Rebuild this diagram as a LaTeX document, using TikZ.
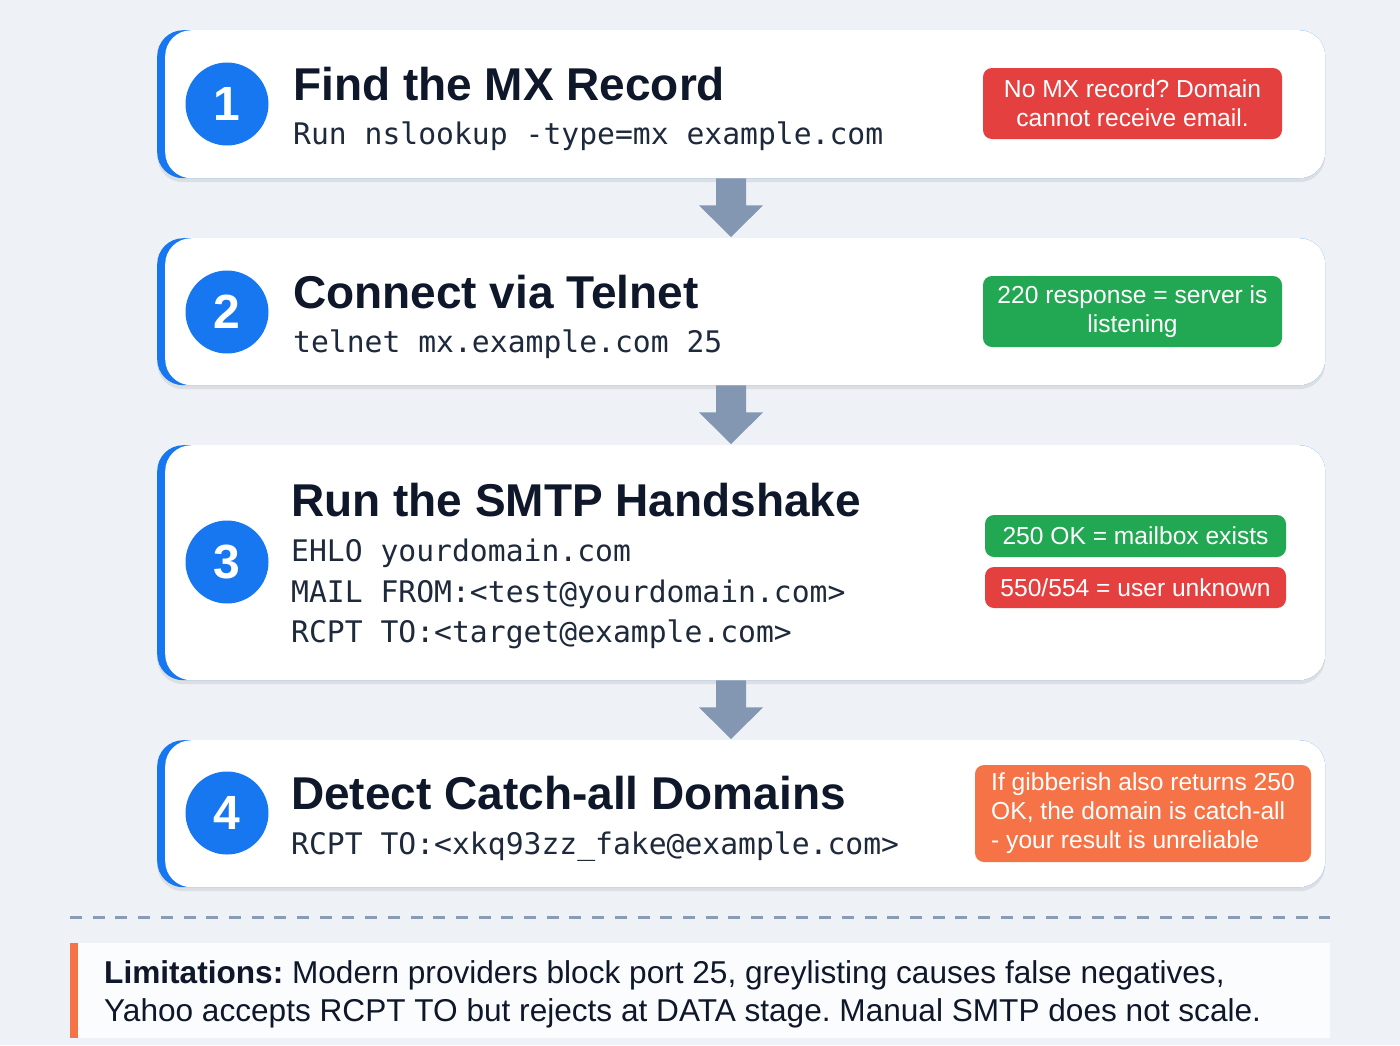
\documentclass[tikz,border=0pt]{standalone}
\usepackage{fontspec}
\setmainfont{Liberation Sans}
\setmonofont{DejaVu Sans Mono}
\usetikzlibrary{calc,shadows}
\frenchspacing
\definecolor{bgc}{RGB}{238,242,247}
\definecolor{stepblue}{RGB}{22,119,240}
\definecolor{ink}{RGB}{15,23,42}
\definecolor{ink2}{RGB}{30,41,59}
\definecolor{arrowc}{RGB}{132,151,178}
\definecolor{dashc}{RGB}{138,155,181}
\definecolor{badred}{RGB}{228,64,64}
\definecolor{goodgreen}{RGB}{34,167,82}
\definecolor{warnorange}{RGB}{245,115,70}
\definecolor{notebg}{RGB}{251,252,253}
\begin{document}
\begin{tikzpicture}[x=1pt,y=-1pt,
  cardbase/.style={fill=stepblue, rounded corners=26, inner sep=0, anchor=north west, minimum width=1168,
    drop shadow={shadow xshift=0pt, shadow yshift=-4pt, opacity=0.08, fill=black}},
  cardface/.style={fill=white, rounded corners=26, inner sep=0, anchor=north west, minimum width=1160},
  num/.style={circle, fill=stepblue, minimum size=83, inner sep=0, text=white, font=\fontsize{48}{48}\selectfont\bfseries},
  ttl/.style={anchor=base west, inner sep=0, text=ink, font=\fontsize{46}{55}\selectfont\bfseries},
  codeline/.style={anchor=base west, inner sep=0, text=ink2, font=\fontsize{29.7}{40}\selectfont\ttfamily},
  badge/.style={rounded corners=9, text=white, inner sep=0, font=\fontsize{24.6}{29}\selectfont, align=center},
  limline/.style={anchor=base west, inner sep=0, text=ink, font=\fontsize{31.6}{38}\selectfont\frenchspacing},
  flowarrow/.style={fill=arrowc}
]
\fill[bgc] (0,0) rectangle (1400,1045);
\useasboundingbox (0,0) rectangle (1400,1045);

% cards
\node[cardbase, minimum height=148] (b1) at (157,30) {};
\node[cardface, minimum height=148] (c1) at (165,30) {};
\node[cardbase, minimum height=147] (b2) at (157,238) {};
\node[cardface, minimum height=147] (c2) at (165,238) {};
\node[cardbase, minimum height=235] (b3) at (157,445) {};
\node[cardface, minimum height=235] (c3) at (165,445) {};
\node[cardbase, minimum height=147] (b4) at (157,740) {};
\node[cardface, minimum height=147] (c4) at (165,740) {};

% arrows
\coordinate (ax) at (731,0);
\foreach \u/\l in {c1/c2,c2/c3,c3/c4}{
  \fill[flowarrow] ($(\u.south -| ax)+(-15,0)$) -- ($(\u.south -| ax)+(15,0)$) -- ($(\u.south -| ax)+(15,27)$)
    -- ($(\u.south -| ax)+(32,27)$) -- ($(\l.north -| ax)+(0,-1)$) -- ($(\u.south -| ax)+(-32,27)$)
    -- ($(\u.south -| ax)+(-15,27)$) -- cycle;
}

% step 1
\node[num] (n1) at (227,104) {1};
\node[ttl] (t1) at (293,100) {Find the MX Record};
\node[codeline] (k1) at (293,144) {Run nslookup -type=mx example.com};
\node[badge, fill=badred, minimum width=299, minimum height=71] (g1) at (1132.5,103.5) {No MX record? Domain\\cannot receive email.};

% step 2
\node[num] (n2) at (227,312) {2};
\node[ttl] (t2) at (293,308) {Connect via Telnet};
\node[codeline] (k2) at (293,352) {telnet mx.example.com 25};
\node[badge, fill=goodgreen, minimum width=299, minimum height=71] (g2) at (1132.5,311.5) {220 response = server is\\listening};

% step 3
\node[num] (n3) at (227,562) {3};
\node[ttl] (t3) at (291,516) {Run the SMTP Handshake};
\node[codeline] (k3a) at (291,561) {EHLO yourdomain.com};
\node[codeline] (k3b) at (291,602) {MAIL FROM:<test@yourdomain.com>};
\node[codeline] (k3c) at (291,642) {RCPT TO:<target@example.com>};
\node[badge, fill=goodgreen, minimum width=301, minimum height=42] (g3a) at (1135.5,536) {250 OK = mailbox exists};
\node[badge, fill=badred, minimum width=301, minimum height=41] (g3b) at (1135.5,587.5) {550/554 = user unknown};

% step 4
\node[num] (n4) at (227,813) {4};
\node[ttl] (t4) at (291,809) {Detect Catch-all Domains};
\node[codeline] (k4) at (291,854) {RCPT TO:<xkq93zz\_fake@example.com>};
\node[badge, fill=warnorange, minimum width=336, minimum height=97, align=left] (g4) at (1143,813.5) {If gibberish also returns 250\\OK, the domain is catch-all\\- your result is unreliable};

% separator
\coordinate (d0) at (70,917);
\coordinate (d1) at (1330,917);
\draw[dashc, line width=3, dash pattern=on 12 off 10.7] (d0) -- (d1);

% limitations
\node[fill=notebg, inner sep=0, anchor=north west, minimum width=1260, minimum height=95] (lim) at (70,943) {};
\fill[warnorange] (lim.north west) rectangle ($(lim.south west)+(8,0)$);
\node[limline] (lim1) at (104,983) {\textbf{Limitations:} Modern providers block port 25, greylisting causes false negatives,};
\node[limline] (lim2) at (104,1021) {Yahoo accepts RCPT TO but rejects at DATA stage. Manual SMTP does not scale.};
\end{tikzpicture}
\end{document}
